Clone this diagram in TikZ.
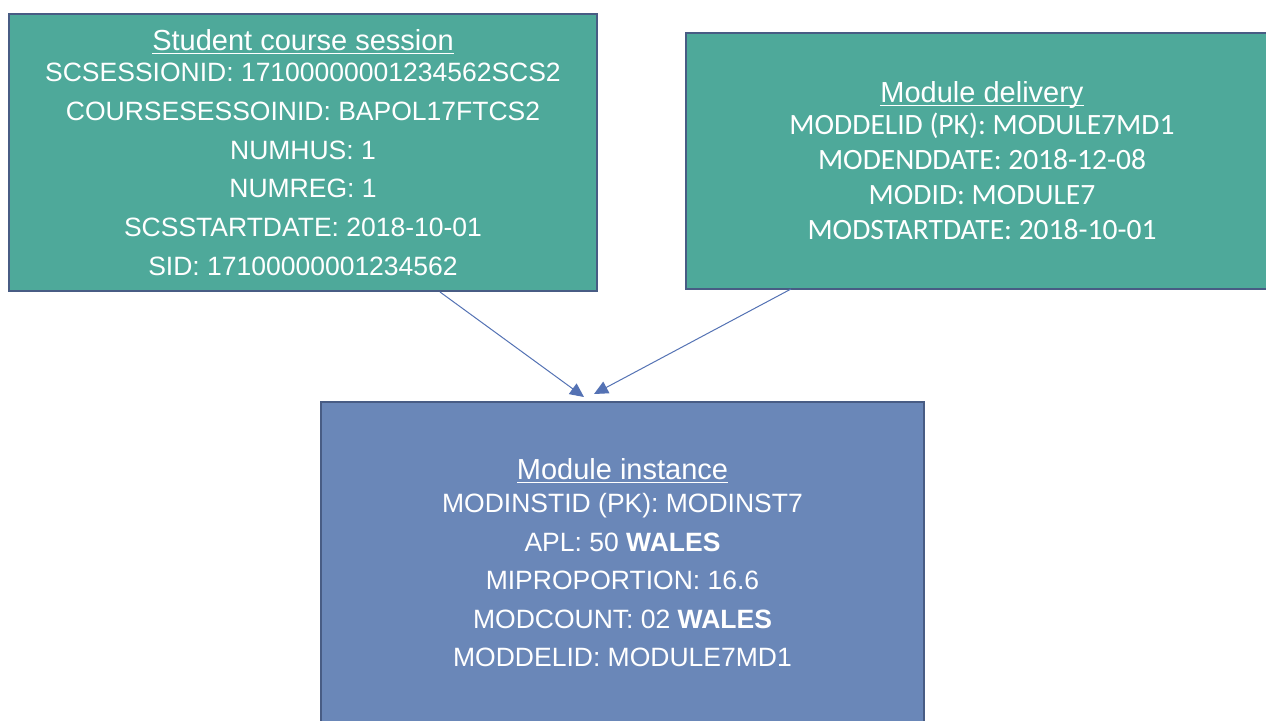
\documentclass[tikz,border=0pt]{standalone}
\usepackage{fontspec}
\setmainfont{Liberation Sans}
\newfontfamily\calib{Carlito}
\usetikzlibrary{arrows.meta}
\definecolor{tealfill}{RGB}{78,169,154}
\definecolor{instfill}{RGB}{106,135,184}
\definecolor{boxedge}{RGB}{72,92,132}
\definecolor{arrcol}{RGB}{84,114,180}
\newcommand\myul[1]{\setbox0\hbox{#1}\rlap{\rule[-3.5pt]{\wd0}{1.5pt}}\box0}
\begin{document}
\begin{tikzpicture}[x=1pt,y=-1pt,
  entity/.style={draw=boxedge, line width=2pt, text=white, inner sep=0pt,
    align=center, anchor=north west},
  edgeline/.style={draw=boxedge, line width=2pt},
  link/.style={draw=arrcol, line width=1pt, -{Triangle[length=14pt,width=13pt]}}]
\useasboundingbox (0,0) rectangle (1266,720);
\fill[white] (0,0) rectangle (1266,720);

\node[entity, fill=tealfill, minimum width=588pt, minimum height=277pt,
  font=\fontsize{26.5}{38.7}\selectfont] (b1) at (8,13)
  {\myul{\fontsize{29}{29}\selectfont Student course session}\\[-7.7pt]
   SCSESSIONID: 17100000001234562SCS2\\
   COURSESESSOINID: BAPOL17FTCS2\\
   NUMHUS: 1\\
   NUMREG: 1\\
   SCSSTARTDATE: 2018-10-01\\
   SID: 17100000001234562};

\node[entity, draw=none, fill=tealfill, minimum width=590pt, minimum height=254pt,
  font=\calib\fontsize{29.5}{35.2}\selectfont] (b2) at (686,33)
  {\myul{\rmfamily\fontsize{29}{29}\selectfont Module delivery}\\[-4pt]
   MODDELID (PK): MODULE7MD1\\
   MODENDDATE: 2018-12-08\\
   MODID: MODULE7\\
   MODSTARTDATE: 2018-10-01};
\draw[edgeline] (b2.north east) -- (b2.north west) -- (b2.south west) -- (b2.south east);

\node[entity, fill=instfill, minimum width=603pt, minimum height=322pt,
  font=\fontsize{26.5}{38.5}\selectfont] (b3) at (320,401)
  {\myul{\fontsize{29}{29}\selectfont Module instance}\\[-5.5pt]
   MODINSTID (PK): MODINST7\\
   APL: 50 \textbf{WALES}\\
   MIPROPORTION: 16.6\\
   MODCOUNT: 02 \textbf{WALES}\\
   MODDELID: MODULE7MD1};

\coordinate (t1) at ([xshift=-38.5pt,yshift=4pt]b3.north);
\coordinate (t2) at ([xshift=-28.5pt,yshift=7pt]b3.north);
\draw[link] ([xshift=137pt]b1.south) -- (t1);
\draw[link] ([xshift=-191pt]b2.south) -- (t2);
\end{tikzpicture}
\end{document}
